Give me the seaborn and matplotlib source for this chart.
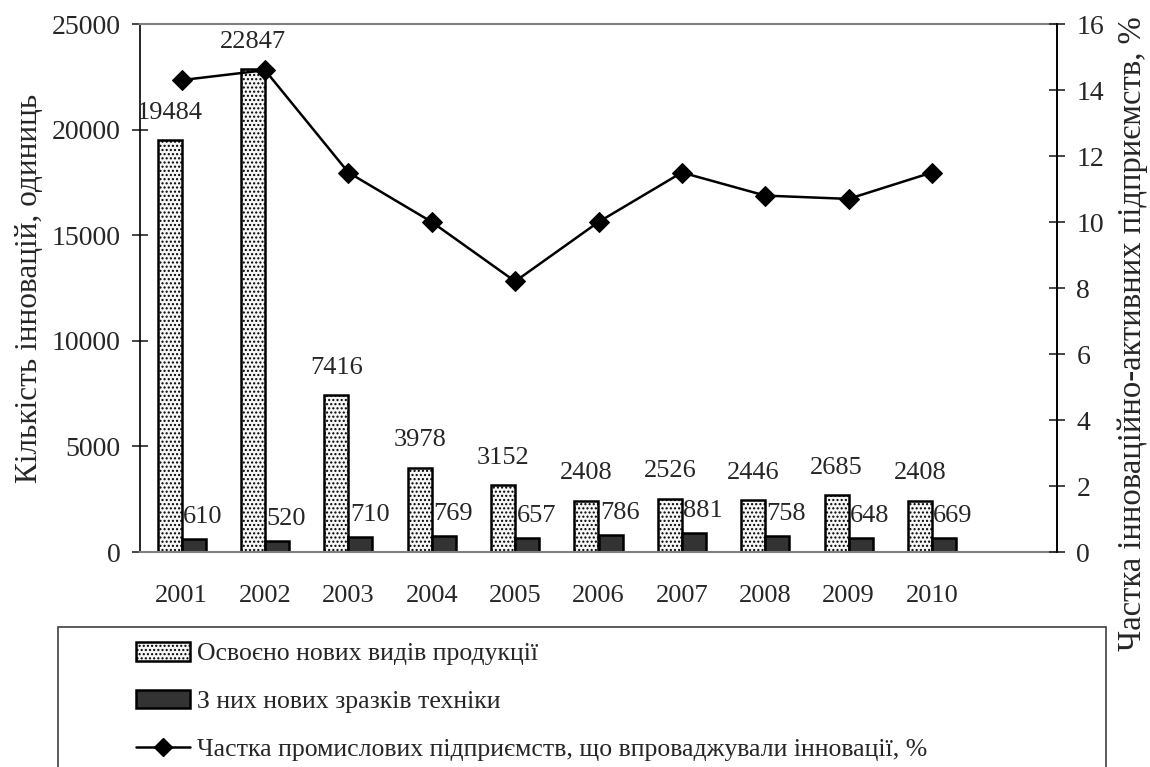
import numpy as np
import pandas as pd
import seaborn as sns
import matplotlib.pyplot as plt
from matplotlib.patches import Patch, Rectangle
from matplotlib.lines import Line2D
from matplotlib.ticker import FixedLocator

# Data
years = ['2001', '2002', '2003', '2004', '2005', '2006', '2007', '2008', '2009', '2010']
new_products = [19484, 22847, 7416, 3978, 3152, 2408, 2526, 2446, 2685, 2408]
new_machinery = [610, 520, 710, 769, 657, 786, 881, 758, 648, 669]
share_innov = [14.3, 14.6, 11.5, 10.0, 8.2, 10.0, 11.5, 10.8, 10.7, 11.5]

s_prod = 'Освоєно нових видів продукції'
s_mach = 'З них нових зразків техніки'
s_share = 'Частка промислових підприємств, що впроваджували інновації, %'

df = pd.DataFrame({'year': years * 2,
                   'series': [s_prod] * len(years) + [s_mach] * len(years),
                   'value': new_products + new_machinery})

sns.set_style('white')
plt.rcParams['font.family'] = ['Liberation Serif', 'DejaVu Serif']
plt.rcParams['hatch.linewidth'] = 1.0

fig = plt.figure(figsize=(11.5, 7.67), dpi=100)
ax = fig.add_axes([140 / 1150, 1 - 552 / 767, 917 / 1150, 528 / 767])

sns.barplot(data=df, x='year', y='value', hue='series', order=years,
            hue_order=[s_prod, s_mach], palette=['white', '#333333'],
            width=0.576, gap=0, dodge=True, legend=False, ax=ax,
            edgecolor='black', linewidth=1.8, saturation=1)
for bar in ax.containers[0]:
    bar.set_hatch('....')
    bar.set_facecolor('#f6f6f6')

ax.set_xlim(-0.5, 10.5)
ax.set_ylim(0, 25000)
ax.set_yticks(range(0, 25001, 5000))
ax.set_xlabel('')
ax.set_ylabel('')

# value labels
for bar, v in zip(ax.containers[0], new_products):
    ax.annotate(str(v), (bar.get_x() + bar.get_width() / 2, bar.get_height()),
                xytext=(0, 20), textcoords='offset points',
                ha='center', va='center', fontsize=19)
for bar, v in zip(ax.containers[1], new_machinery):
    ax.annotate(str(v), (bar.get_x(), bar.get_height()),
                xytext=(1, 16), textcoords='offset points',
                ha='left', va='center', fontsize=19)

# spines and ticks
for side in ['left', 'right']:
    ax.spines[side].set_color('black')
    ax.spines[side].set_linewidth(1.2)
for side in ['top', 'bottom']:
    ax.spines[side].set_color('#808080')
    ax.spines[side].set_linewidth(1.5)
ax.xaxis.set_minor_locator(FixedLocator(np.arange(-0.5, 10.6, 1)))
ax.tick_params(axis='x', which='major', length=0, pad=24, labelsize=19)
ax.tick_params(axis='x', which='minor', direction='inout', length=12,
               width=1.2, color='#808080')
ax.tick_params(axis='y', direction='inout', length=12, width=1.2,
               left=True, labelsize=20, pad=8)

ax2 = ax.twinx()
sns.lineplot(x=np.arange(len(years)), y=share_innov, ax=ax2, color='black',
             linewidth=1.8, marker='D', markersize=10, markeredgecolor='black')
ax2.set_ylim(0, 16)
ax2.set_yticks(range(0, 17, 2))
ax2.tick_params(axis='y', direction='inout', length=12, width=1.2,
                right=True, labelsize=20, pad=8)
for side in ['top', 'bottom', 'left']:
    ax2.spines[side].set_visible(False)
ax2.spines['right'].set_color('black')
ax2.spines['right'].set_linewidth(1.2)

fig.text(30 / 1150, 1 - 288 / 767, 'Кількість інновацій, одиниць', rotation=90,
         ha='center', va='center', fontsize=22.5)
fig.text(1133 / 1150, 1 - 334 / 767, 'Частка інноваційно-активних підприємств, %',
         rotation=90, ha='center', va='center', fontsize=23.5)

# legend box
fig.patches.append(Rectangle((58 / 1150, -0.05), (1106 - 58) / 1150, 1 - 627 / 767 + 0.05,
                             transform=fig.transFigure, fill=False,
                             edgecolor='#404040', linewidth=1.2))
handles = [Patch(facecolor='#f6f6f6', edgecolor='black', hatch='....', linewidth=1.8),
           Patch(facecolor='#333333', edgecolor='black', linewidth=1.8),
           Line2D([], [], color='black', linewidth=1.8, marker='D', markersize=9)]
fig.legend(handles, [s_prod, s_mach, s_share], loc='upper left',
           bbox_to_anchor=(123 / 1150, 1 - 629 / 767), frameon=False,
           fontsize=18.5, handlelength=2.1, handleheight=0.75, handletextpad=0.27,
           labelspacing=0.95, borderpad=0)

fig.savefig('out.png', dpi=100)
